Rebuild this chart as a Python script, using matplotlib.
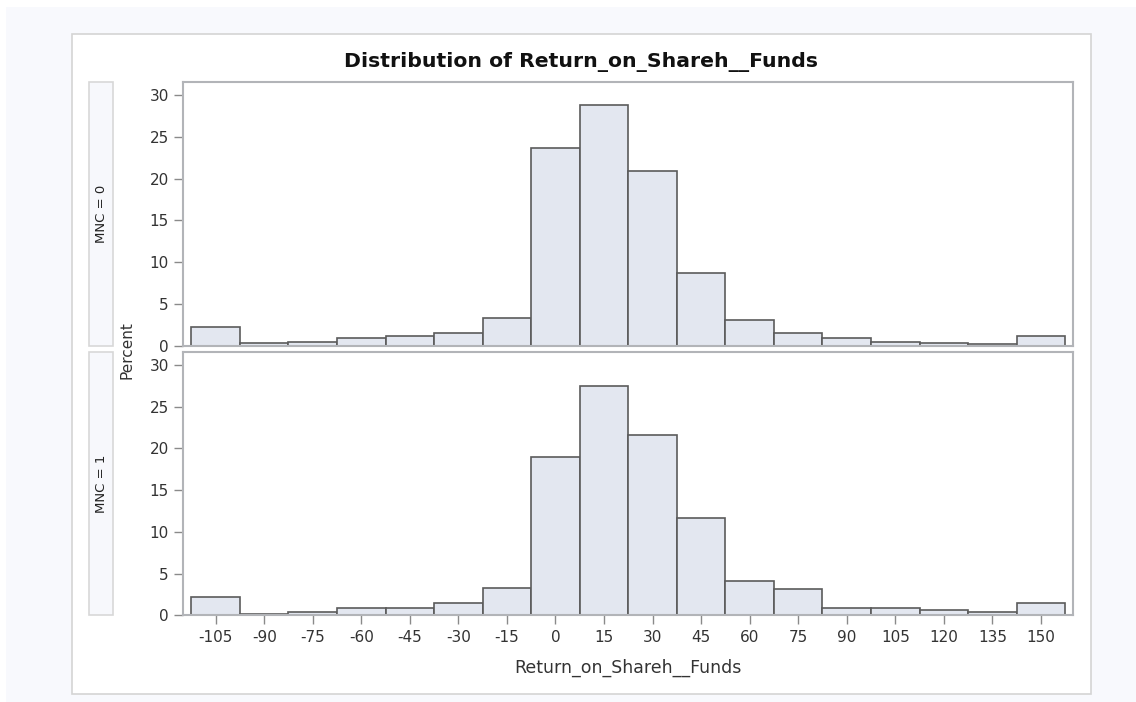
import matplotlib
matplotlib.use("Agg")
import matplotlib.pyplot as plt
from matplotlib.patches import Rectangle

plt.rcParams["axes.unicode_minus"] = False

# Histogram bin midpoints (bin width 15)
bin_mid = [-105, -90, -75, -60, -45, -30, -15, 0, 15, 30, 45, 60, 75, 90, 105, 120, 135, 150]
bin_width = 15

# Percent of observations per bin, by MNC group
pct_mnc0 = [2.2, 0.25, 0.45, 0.95, 1.1, 1.45, 3.3, 23.7, 28.8, 20.9, 8.7, 3.1, 1.55, 0.9, 0.45, 0.25, 0.12, 1.1]
pct_mnc1 = [2.15, 0.15, 0.35, 0.85, 0.85, 1.5, 3.3, 19.0, 27.5, 21.6, 11.7, 4.15, 3.15, 0.85, 0.85, 0.65, 0.45, 1.45]

groups = ["MNC = 0", "MNC = 1"]
series = [pct_mnc0, pct_mnc1]
y_ticks = [0, 5, 10, 15, 20, 25, 30]

W, H = 1136, 702
fig = plt.figure(figsize=(W / 100, H / 100), dpi=100, facecolor="white")


def fx(px):
    return px / W


def fy(py):
    return 1 - py / H


# page background and the graph frame
fig.patches.append(Rectangle((fx(6), 0), 1, fy(7), transform=fig.transFigure,
                             facecolor="#f8f9fd", edgecolor="none", zorder=-3))
fig.patches.append(Rectangle((fx(71.7), fy(693.7)), fx(1090.7) - fx(71.7), fy(34.3) - fy(693.7),
                             transform=fig.transFigure, facecolor="white",
                             edgecolor="#d4d4d4", linewidth=1.2, zorder=-2))

ax_left, ax_right = 183.3, 1073.3
panels = [(82.0, 345.5), (351.7, 615.3)]

bar_fill = "#e3e7f0"
bar_edge = "#5b5b5b"
spine_col = "#b2b4b8"
text_col = "#333333"

axes = []
for i, ((top, bot), vals, name) in enumerate(zip(panels, series, groups)):
    ax = fig.add_axes([fx(ax_left), fy(bot), fx(ax_right) - fx(ax_left), fy(top) - fy(bot)])
    ax.set_zorder(5)
    ax.set_facecolor("white")
    ax.bar(bin_mid, vals, width=bin_width, align="center",
           color=bar_fill, edgecolor=bar_edge, linewidth=1.2, zorder=2)
    ax.set_xlim(-115, 160)
    ax.set_ylim(0, 31.6)
    ax.set_yticks(y_ticks)
    ax.set_xticks(bin_mid)
    for s in ax.spines.values():
        s.set_color(spine_col)
        s.set_linewidth(1.5)
    ax.tick_params(axis="both", length=6.5, width=1, color="#8a8a8a",
                   labelcolor=text_col, labelsize=11, pad=4)
    if i == 0:
        ax.tick_params(axis="x", bottom=False, labelbottom=False)
    axes.append(ax)

    # facet strip on the left
    fig.patches.append(Rectangle((fx(89.3), fy(bot)), fx(113.3) - fx(89.3), fy(top) - fy(bot),
                                 transform=fig.transFigure, facecolor="#f7f8fc",
                                 edgecolor="#d8d8d8", linewidth=1.2, zorder=-1))
    fig.text(fx(101.3), fy((top + bot) / 2), name, rotation=90, ha="center", va="center",
             fontsize=9.5, color="#222222", zorder=3)

fig.text(fx(581.5), fy(61.7), "Distribution of Return_on_Shareh__Funds",
         ha="center", va="center", fontsize=14.7, fontweight="bold", color="#111111")
fig.text(fx(127), fy(350), "Percent", rotation=90, ha="center", va="center",
         fontsize=11, color=text_col)
fig.text(fx((ax_left + ax_right) / 2), fy(668), "Return_on_Shareh__Funds",
         ha="center", va="center", fontsize=12.5, color=text_col)

fig.savefig("out.png", dpi=100, facecolor="white")
